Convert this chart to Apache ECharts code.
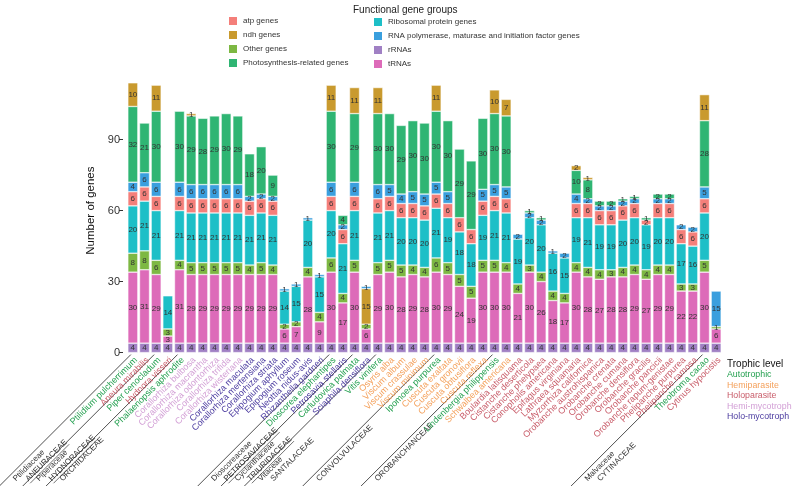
<!DOCTYPE html>
<html><head><meta charset="utf-8">
<script src="https://cdn.jsdelivr.net/npm/echarts@6/dist/echarts.min.js"></script>
<style>html,body{margin:0;padding:0;background:#fff}#c{width:794px;height:486px}</style>
</head><body><div id="c"></div>
<script>
// ---------- data ----------
const species = [
 'Ptilidium pulcherrimum','Aneura mirabilis','Piper cenocladum','Hydnora visseri','Phalaenopsis aphrodite',
 'Corallorhiza bulbosa','Corallorhiza macrantha','Corallorhiza odontorhiza','Corallorhiza trifida','Corallorhiza wisteriana',
 'Corallorhiza maculata','Corallorhiza mertensiana','Corallorhiza striata','Epipogium aphyllum','Epipogium roseum',
 'Neottia nidus-avis','Rhizanthella gardneri','Dioscorea elephantipes','Petrosavia stellaris','Carludovica palmata',
 'Sciaphila densiflora','Vitis vinifera','Osyris alba','Viscum album','Viscum crassulae','Viscum minimum',
 'Ipomoea purpurea','Cuscuta exaltata','Cuscuta gronovii','Cuscuta obtusiflora','Cuscuta reflexa',
 'Lindenbergia philippensis','Schwalbea americana','Boulardia latisquama','Cistanche deserticola','Cistanche phelypaea',
 'Conopholis americana','Epifagus virginiana','Lathraea squamaria','Myzorrhiza californica','Orobanche austrohispanica',
 'Orobanche crenata','Orobanche cumana','Orobanche densiflora','Orobanche gracilis','Orobanche pancicii',
 'Orobanche rapum-genistae','Phelipanche purpurea','Phelipanche ramosa','Theobroma cacao','Cytinus hypocistis'
];
// A = Autotrophic, HeP = Hemiparasite, HoP = Holoparasite, HeM = Hemi-mycotroph, HoM = Holo-mycotroph
const trophic = [
 'A','HoP','A','HoP','A',
 'HeM','HeM','HeM','HeM','HeM',
 'HoM','HoM','HoM','HoM','HoM',
 'HoM','HoM','A','HoM','A',
 'HoM','A','HeP','HeP','HeP','HeP',
 'A','HeP','HeP','HeP','HeP',
 'A','HeP','HoP','HoP','HoP',
 'HoP','HoP','HoP','HoP','HoP',
 'HoP','HoP','HoP','HoP','HoP',
 'HoP','HoP','HoP','A','HoP'
];
const rRNAs = [4,4,4,4,4, 4,4,4,4,4, 4,4,4,4,4, 4,4,4,4,4, 4,4,4,4,4,4, 4,4,4,4,4, 4,4,4,4,4, 4,4,4,4,4, 4,4,4,4,4, 4,4,4,4,4];
const tRNAs = [30,31,29,3,31, 29,29,29,29,29, 29,29,29,6,7, 28,9,30,17,30, 6,29,30,28,29,28, 30,29,24,19,30, 30,30,21,30,26, 18,17,30,28,27, 28,28,29,27,29, 29,22,22,30,6];
const otherGenes = [8,8,6,3,4, 5,5,5,5,5, 4,5,4,2,2, 4,4,6,4,5, 2,5,5,5,4,4, 6,5,5,5,5, 5,4,4,3,4, 4,4,4,4,4, 3,4,4,4,4, 4,3,3,5,1];
const ribosomal = [20,21,21,14,21, 21,21,21,21,21, 21,21,21,14,15, 20,15,20,21,21, 15,21,21,20,20,20, 21,19,18,18,19, 21,21,19,20,20, 16,15,19,21,19, 19,20,20,19,20, 20,17,16,20,0];
const atpGenes = [6,6,6,0,6, 6,6,6,6,6, 6,6,6,0,0, 0,0,6,6,6, 0,6,6,6,6,6, 6,6,6,6,6, 6,6,0,0,0, 0,0,6,6,6, 6,6,6,2,6, 6,6,6,6,0];
const rnaPol = [4,6,6,0,6, 6,6,6,6,6, 2,2,2,1,1, 1,1,6,2,6, 1,6,5,4,5,5, 5,5,0,0,5, 5,5,2,2,2, 1,2,4,2,2, 2,2,2,0,2, 2,2,2,5,15];
const photosynthesis = [32,21,30,0,30, 29,28,29,30,29, 18,20,9,0,0, 0,0,30,4,29, 0,30,30,29,30,30, 30,30,29,29,30, 30,30,0,1,1, 0,0,10,8,2, 2,1,1,1,2, 2,0,0,28,0];
const ndhGenes = [10,0,11,0,0, 1,0,0,0,0, 0,0,0,0,0, 0,0,11,0,11, 0,11,0,0,0,0, 11,0,0,0,0, 10,7,0,0,0, 0,0,2,1,0, 0,0,0,0,0, 0,0,0,11,0];
const yTicks = [0, 30, 60, 90];

// family groups: first bar index of each group, names
const familyStart = [0, 2, 4, 17, 19, 21, 26, 31, 49];
const familyFirst = ['Ptilidiaceae','Piperaceae','ORCHIDACEAE','Dioscoreaceae','Cyclanthaceae','Vitaceae','CONVOLVULACEAE','OROBANCHANCEAE','Malvaceae'];
const familySecond = ['ANEURACEAE','HYDNORACEAE','','PETROSAVIACEAE','TRIURIDACEAE','SANTALACEAE','','','CYTINACEAE'];
const familySecondUnderlined = [true, true, false, true, true, false, false, false, false];

const trophicNames = {A:'Autotrophic', HeP:'Hemiparasite', HoP:'Holoparasite', HeM:'Hemi-mycotroph', HoM:'Holo-mycotroph'};
const trophicOrder = ['A','HeP','HoP','HeM','HoM'];

// ---------- styles ----------
const trophicColor = {A:'#24a050', HeP:'#f4a15c', HoP:'#c95d6a', HeM:'#d3a0d6', HoM:'#4c3ca0'};
const geneColor = {
 'atp genes':'#f47f7a', 'ndh genes':'#c99a2e', 'Other genes':'#7db843', 'Photosynthesis-related genes':'#2fb573',
 'Ribosomal protein genes':'#1dbfc7', 'RNA polymerase, maturase and initiation factor genes':'#3a9fde',
 'rRNAs':'#a080c4', 'tRNAs':'#dd6bb9'
};
const FONT = "'Liberation Sans', Arial, Helvetica, sans-serif";

// stacking order bottom -> top
const stackSeries = [
 ['rRNAs', rRNAs], ['tRNAs', tRNAs], ['Other genes', otherGenes], ['Ribosomal protein genes', ribosomal],
 ['atp genes', atpGenes], ['RNA polymerase, maturase and initiation factor genes', rnaPol],
 ['Photosynthesis-related genes', photosynthesis], ['ndh genes', ndhGenes]
];
// In the reference, Sciaphila's ribosomal block is drawn in the ndh colour
const recolour = {series: 'Ribosomal protein genes', species: 'Sciaphila densiflora', as: 'ndh genes'};

const series = stackSeries.map(([name, arr]) => ({
  name, type: 'bar', stack: 'genes', barWidth: 10,
  itemStyle: {color: geneColor[name], borderColor: '#fff', borderWidth: 0.5},
  label: {show: true, position: 'inside', fontSize: 8, fontFamily: FONT, color: '#333',
          formatter: p => (p.value ? String(p.value) : '')},
  emphasis: {disabled: true},
  data: arr.map((v, i) => {
    const item = {value: v === 0 ? null : v};
    if (name === recolour.series && species[i] === recolour.species) item.itemStyle = {color: geneColor[recolour.as]};
    return item;
  })
}));

const chart = echarts.init(document.getElementById('c'), null, {renderer: 'canvas'});
const legendText = {fontSize: 8, fontFamily: FONT, color: '#333'};
chart.setOption({
  animation: false,
  backgroundColor: '#fff',
  title: {text: 'Functional gene groups', left: 348, top: 0, textStyle: {fontSize: 10, fontWeight: 'normal', fontFamily: FONT, color: '#222'}},
  legend: [
    {data: ['atp genes','ndh genes','Other genes','Photosynthesis-related genes'], orient: 'vertical', left: 227, top: 15,
     itemWidth: 10, itemHeight: 10, itemGap: 2, icon: 'rect', selectedMode: false, padding: 0, textStyle: legendText},
    {data: ['Ribosomal protein genes','RNA polymerase, maturase and initiation factor genes','rRNAs','tRNAs'], orient: 'vertical', left: 372, top: 16,
     itemWidth: 10, itemHeight: 10, itemGap: 2, icon: 'rect', selectedMode: false, padding: 0, textStyle: legendText}
  ],
  grid: {left: 127, right: 72, top: 68.6, bottom: 133.4, containLabel: false},
  xAxis: {
    type: 'category', data: species,
    axisLine: {show: false}, axisTick: {show: false},
    axisLabel: {interval: 0, rotate: 45, margin: 3, fontSize: 9, fontFamily: FONT, verticalAlign: 'top',
                color: (v, i) => trophicColor[trophic[species.indexOf(v)]]}
  },
  yAxis: {
    type: 'value', min: 0, max: 120, interval: 30, offset: 4,
    name: 'Number of genes', nameLocation: 'middle', nameGap: 24,
    nameTextStyle: {fontSize: 11.5, fontFamily: FONT, color: '#111'},
    axisLine: {show: false},
    axisTick: {show: true, length: 4, customValues: yTicks, lineStyle: {color: '#333'}},
    axisLabel: {customValues: yTicks, fontSize: 11, fontFamily: FONT, color: '#333', margin: 3},
    splitLine: {show: false}
  },
  series
});

// ---------- family separators & labels ----------
const y0 = chart.convertToPixel({yAxisIndex: 0}, 0);
const H = 486;
const measure = document.createElement('canvas').getContext('2d');
measure.font = "8px 'Liberation Sans', Arial";
const graphics = [];
const c45 = Math.SQRT1_2;
familyStart.forEach((idx, g) => {
  const cx = chart.convertToPixel({xAxisIndex: 0}, species[idx]);
  const sx = cx - 2, sy = y0 + 2;
  const ex = sx - (H - sy);
  graphics.push({type: 'line', silent: true, shape: {x1: sx, y1: sy, x2: ex, y2: H}, style: {stroke: '#222', lineWidth: 0.8}});
  const yb = 480;
  const lx = sx - (yb - sy);
  const texts = [[familyFirst[g], 9, false], [familySecond[g], 21.5, familySecondUnderlined[g]]];
  texts.forEach(([t, off, ul]) => {
    if (!t) return;
    const ax = lx + off, ay = yb;
    graphics.push({type: 'text', silent: true, x: ax, y: ay, rotation: Math.PI / 4,
      style: {text: t, fontSize: 8, fontFamily: FONT, fill: '#333', align: 'left', verticalAlign: 'middle'}});
    if (ul) {
      const w = measure.measureText(t).width;
      const ux = ax + 4.6 * c45, uy = ay + 4.6 * c45;
      graphics.push({type: 'line', silent: true, shape: {x1: ux, y1: uy, x2: ux + w * c45, y2: uy - w * c45},
        style: {stroke: '#333', lineWidth: 0.7}});
    }
  });
});

// ---------- trophic level legend ----------
graphics.push({type: 'text', silent: true, x: 727, y: 364, style: {text: 'Trophic level', fontSize: 10, fontFamily: FONT, fill: '#111', verticalAlign: 'middle'}});
trophicOrder.forEach((k, i) => {
  graphics.push({type: 'text', silent: true, x: 727, y: 374.5 + i * 10.6,
    style: {text: trophicNames[k], fontSize: 8.8, fontFamily: FONT, fill: trophicColor[k], verticalAlign: 'middle'}});
});
chart.setOption({graphic: graphics});
</script>
</body></html>
